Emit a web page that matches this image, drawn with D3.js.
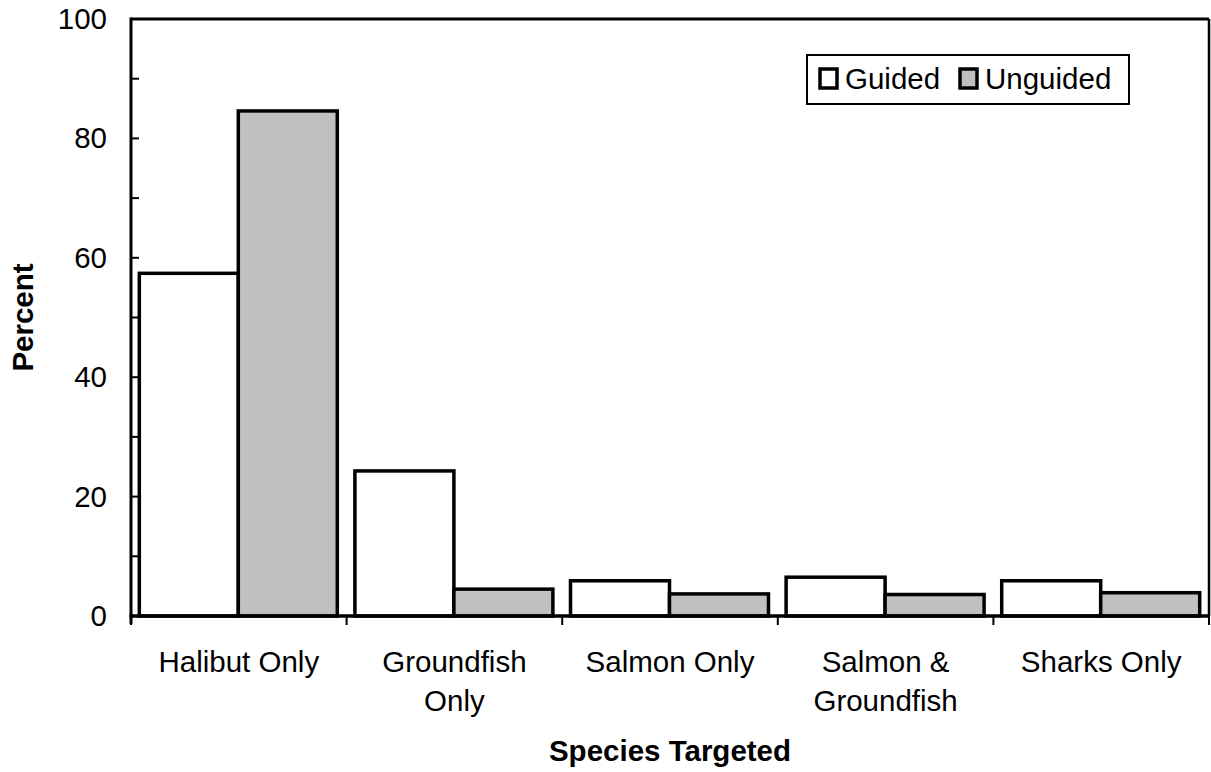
<!DOCTYPE html>
<html><head><meta charset="utf-8">
<script src="https://cdn.jsdelivr.net/npm/d3@7"></script>
<style>
html,body{margin:0;padding:0;background:#fff;}
svg{display:block;}
text{font-family:"Liberation Sans",Arial,sans-serif;fill:#000;}
</style></head>
<body>
<svg id="chart" width="1211" height="772"></svg>
<script>
const categories = ["Halibut Only", "Groundfish Only", "Salmon Only", "Salmon & Groundfish", "Sharks Only"];
const categoryLines = [["Halibut Only"], ["Groundfish", "Only"], ["Salmon Only"], ["Salmon &", "Groundfish"], ["Sharks Only"]];
const seriesNames = ["Guided", "Unguided"];
const guided = [57.4, 24.3, 5.9, 6.5, 5.9];
const unguided = [84.6, 4.5, 3.7, 3.6, 3.9];
const yTicks = [0, 20, 40, 60, 80, 100];
const yMinorTicks = [10, 30, 50, 70, 90];
const seriesColors = ["#ffffff", "#c0c0c0"];

const svg = d3.select("#chart");
const L = 131, R = 1209, T = 19, B = 616;
const fs = 29.5;

const x0 = d3.scaleBand().domain(categories).range([L, R]).paddingInner(0).paddingOuter(0);
const x1 = d3.scaleBand().domain(seriesNames).range([0, x0.bandwidth()]).paddingInner(0).paddingOuter(0.089);
const y = d3.scaleLinear().domain([0, 100]).range([B, T]);

const data = categories.map((c, i) => ({cat: c, vals: [guided[i], unguided[i]]}));

// bars
const g = svg.append("g");
data.forEach(d => {
  d.vals.forEach((v, j) => {
    g.append("rect")
      .attr("x", x0(d.cat) + x1(seriesNames[j]) - 0.5)
      .attr("y", y(v))
      .attr("width", x1.bandwidth())
      .attr("height", y(0) - y(v))
      .attr("fill", seriesColors[j])
      .attr("stroke", "#000")
      .attr("stroke-width", 3.5);
  });
});

// frame: top and right
svg.append("line").attr("x1", L).attr("x2", R).attr("y1", T).attr("y2", T).attr("stroke", "#000").attr("stroke-width", 3);
svg.append("line").attr("x1", R).attr("x2", R).attr("y1", T).attr("y2", B).attr("stroke", "#000").attr("stroke-width", 2.5);

// y axis
const yAxis = svg.append("g").attr("transform", `translate(${L},0)`)
  .call(d3.axisLeft(y).tickValues(yTicks).tickSize(0).tickPadding(24).tickFormat(d3.format("d")));
yAxis.select(".domain").remove();
yAxis.selectAll("text").attr("font-size", fs).attr("font-family", "Liberation Sans, Arial, sans-serif");
svg.append("line").attr("x1", L).attr("x2", L).attr("y1", T - 1.5).attr("y2", B + 8).attr("stroke", "#000").attr("stroke-width", 3);
yTicks.concat(yMinorTicks).forEach(t => {
  svg.append("line").attr("x1", L).attr("x2", L + 8).attr("y1", y(t)).attr("y2", y(t)).attr("stroke", "#000").attr("stroke-width", 2);
});

// x axis
svg.append("line").attr("x1", L - 1.5).attr("x2", R + 1).attr("y1", B).attr("y2", B).attr("stroke", "#000").attr("stroke-width", 3.5);
const xBounds = categories.map(c => x0(c)).concat([R]);
xBounds.forEach(xb => {
  svg.append("line").attr("x1", xb).attr("x2", xb).attr("y1", B).attr("y2", B + 9).attr("stroke", "#000").attr("stroke-width", 2);
});
categoryLines.forEach((lines, i) => {
  const cx = x0(categories[i]) + x0.bandwidth() / 2;
  lines.forEach((ln, k) => {
    svg.append("text").attr("x", cx).attr("y", 672 + k * 39)
      .attr("text-anchor", "middle").attr("font-size", fs).text(ln);
  });
});

// axis titles
svg.append("text").attr("x", (L + R) / 2).attr("y", 761).attr("text-anchor", "middle")
  .attr("font-size", fs).attr("font-weight", "bold").text("Species Targeted");
svg.append("text").attr("transform", `translate(33,${(T + B) / 2}) rotate(-90)`)
  .attr("text-anchor", "middle").attr("font-size", fs).attr("font-weight", "bold").text("Percent");

// legend
const lg = svg.append("g");
lg.append("rect").attr("x", 807).attr("y", 55).attr("width", 322).attr("height", 49)
  .attr("fill", "#fff").attr("stroke", "#000").attr("stroke-width", 2);
const legX = [820, 960];
seriesNames.forEach((s, j) => {
  lg.append("rect").attr("x", legX[j]).attr("y", 69).attr("width", 17).attr("height", 19)
    .attr("fill", seriesColors[j]).attr("stroke", "#000").attr("stroke-width", 3.5);
  lg.append("text").attr("x", legX[j] + 25).attr("y", 89).attr("font-size", fs).text(s);
});
</script>
</body></html>
